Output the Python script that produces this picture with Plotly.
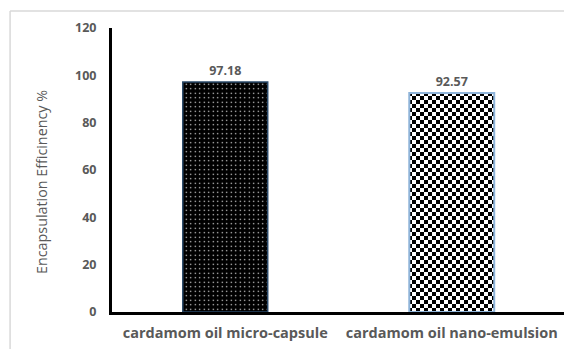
import plotly.graph_objects as go

categories = ["cardamom oil micro-capsule", "cardamom oil nano-emulsion"]
values = [97.18, 92.57]
value_labels = ["97.18", "92.57"]
y_ticks = [0, 20, 40, 60, 80, 100, 120]
y_title = "Encapsulation Efficinency %"

GRAY = "#595959"
FONT = "Open Sans"

fig = go.Figure()
fig.add_trace(go.Bar(
    x=[categories[0]], y=[values[0]], text=[value_labels[0]],
    textposition="outside", cliponaxis=False,
    textfont=dict(family=FONT, size=12.5, color=GRAY, weight="bold"),
    width=0.375,
    marker=dict(
        color="black",
        line=dict(color="#2a4a6a", width=1.5),
        pattern=dict(shape=".", bgcolor="black", fgcolor="white", size=4.5, solidity=0.07, fillmode="replace"),
    ),
    showlegend=False,
))
fig.add_trace(go.Bar(
    x=[categories[1]], y=[values[1]], text=[value_labels[1]],
    textposition="outside", cliponaxis=False,
    textfont=dict(family=FONT, size=12.5, color=GRAY, weight="bold"),
    width=0.375,
    marker=dict(
        color="white",
        line=dict(color="#8fb4d9", width=2),
        pattern=dict(path="M0,0H4V4H0Z M4,4H8V8H4Z", bgcolor="white", fgcolor="black", size=8, fillmode="replace"),
    ),
    showlegend=False,
))

fig.update_layout(
    width=564, height=341,
    margin=dict(l=104, r=7, t=20, b=37),
    paper_bgcolor="white", plot_bgcolor="white",
    barmode="overlay",
    font=dict(family=FONT, color=GRAY),
    xaxis=dict(
        categoryorder="array", categoryarray=categories,
        showline=True, linecolor="black", linewidth=3,
        showgrid=False, ticks="", ticklabelstandoff=6,
        tickfont=dict(family=FONT, size=14.5, color=GRAY, weight="bold"),
        range=[-0.5, 1.5],
    ),
    yaxis=dict(
        range=[0, 120], tickvals=y_ticks,
        showline=True, linecolor="black", linewidth=3,
        showgrid=False, zeroline=False, ticks="", ticklabelstandoff=10,
        tickfont=dict(family=FONT, size=12.5, color=GRAY, weight="bold"),
    ),
    annotations=[
        dict(text=y_title, xref="paper", yref="paper", x=-0.1545, y=0.458,
             xanchor="center", yanchor="middle", textangle=-90, showarrow=False,
             font=dict(family=FONT, size=14.3, color=GRAY)),
    ],
    shapes=[
        dict(type="line", xref="paper", yref="paper", x0=-0.225, x1=-0.225, y0=-0.3, y1=1.06,
             line=dict(color="#d9d9d9", width=1.5), layer="below"),
        dict(type="line", xref="paper", yref="paper", x0=-0.225, x1=1.05, y0=1.06, y1=1.06,
             line=dict(color="#d9d9d9", width=1.5), layer="below"),
    ],
)

fig.write_html("out.html")
